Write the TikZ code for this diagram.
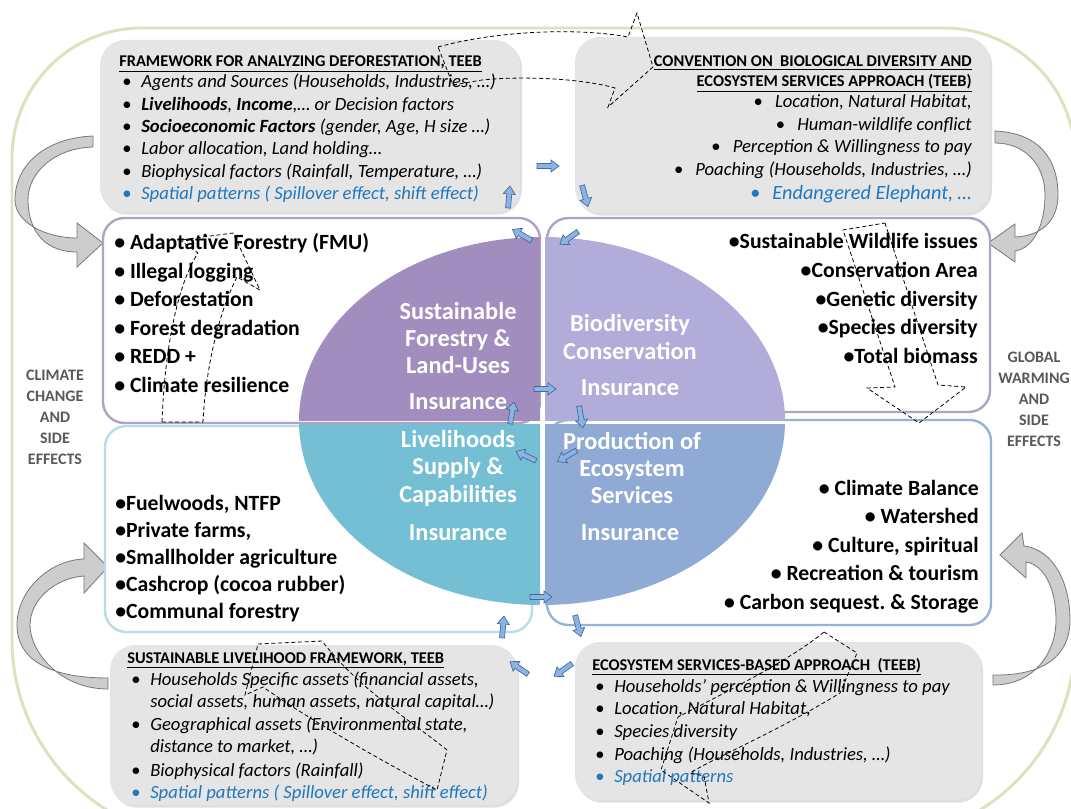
\documentclass[tikz,border=0pt]{standalone}
\usepackage{fontspec}
\setmainfont{Carlito}
\usetikzlibrary{shadows}
\frenchspacing
\definecolor{frameg}{RGB}{215,228,189}
\definecolor{boxg}{RGB}{229,229,229}
\definecolor{purb}{RGB}{178,161,199}
\definecolor{lblb}{RGB}{183,221,232}
\definecolor{blb}{RGB}{149,179,215}
\definecolor{qtl}{RGB}{161,142,190}
\definecolor{qtr}{RGB}{177,172,217}
\definecolor{qbl}{RGB}{116,191,211}
\definecolor{qbr}{RGB}{143,170,213}
\definecolor{txtblue}{RGB}{31,119,190}
\definecolor{sidegray}{RGB}{89,89,89}
\definecolor{arrfill}{RGB}{141,179,226}
\definecolor{arrdraw}{RGB}{65,105,155}
\definecolor{bigfill}{RGB}{205,205,205}
\definecolor{bigdraw}{RGB}{120,120,120}
\newcommand{\bul}{\makebox[14.25pt][l]{\upshape •}}
\begin{document}
\begin{tikzpicture}[x=0.75pt,y=-0.75pt,
 gbox/.style={fill=boxg, rounded corners=19pt, drop shadow={opacity=0.25,shadow xshift=1.5pt,shadow yshift=-2pt}},
 mbox/.style={fill=white, rounded corners=16pt, line width=1.8pt},
 gi/.style={font=\fontsize{14}{16.8}\selectfont\itshape, inner sep=0pt, anchor=base west},
 gir/.style={gi, anchor=base east},
 gh/.style={font=\fontsize{12.3}{14}\selectfont\bfseries, inner sep=0pt, anchor=base west},
 ghr/.style={gh, anchor=base east},
 mi/.style={font=\fontsize{16.3}{19}\selectfont\bfseries, inner sep=0pt, anchor=base west},
 mir/.style={mi, anchor=base east},
 qt/.style={font=\fontsize{18.3}{20.6}\selectfont\bfseries, text=white, align=center, inner sep=0pt},
 side/.style={font=\fontsize{12}{15.75}\selectfont\bfseries, text=sidegray, align=center, inner sep=0pt},
 big/.style={fill=bigfill, draw=bigdraw, line width=0.6pt},
 dsh/.style={draw=black, line width=0.6pt, dash pattern=on 3pt off 2pt},
 barr/.pic={\filldraw[fill=arrfill, draw=arrdraw, line width=0.5pt] (-11,-2.5) -- (3,-2.5) -- (3,-6) -- (11,0) -- (3,6) -- (3,2.5) -- (-11,2.5) -- cycle;}
]
\useasboundingbox (0,0) rectangle (1071,809);
\fill[white] (0,0) rectangle (1071,809);

% outer frame
\draw[frameg, line width=2.2pt] (12,158) .. controls (12,86) and (70,28) .. (142,28)
 -- (944,28) .. controls (1016,28) and (1075,86) .. (1075,158)
 -- (1075,640) .. controls (1075,750) and (985,840) .. (875,840)
 -- (212,840) .. controls (102,840) and (12,750) .. (12,640) -- cycle;

% gray boxes
\path[gbox] (100,40) rectangle (520,212);
\path[gbox] (575,37) rectangle (990,213);
\path[gbox] (110,645) rectangle (517,805);
\path[gbox] (575,642) rectangle (981,800);

% big gray curved arrows
\path[big] (93,136) .. controls (45,138) and (15,165) .. (15,200) .. controls (15,222) and (45,238) .. (77,238)
 -- (77,223) -- (103,243) -- (77,267) -- (77,252) .. controls (40,252) and (28,225) .. (28,200)
 .. controls (28,172) and (55,148) .. (93,147) -- cycle;
\path[big] (995,131) .. controls (1040,133) and (1058,160) .. (1058,195) .. controls (1058,222) and (1040,236) .. (1015,237)
 -- (1015,224) -- (988,243) -- (1015,262) -- (1015,251) .. controls (1035,248) and (1045,222) .. (1045,195)
 .. controls (1045,165) and (1025,143) .. (995,143) -- cycle;
\path[big] (108,678) .. controls (50,678) and (17,660) .. (17,625) .. controls (17,590) and (50,560) .. (84,559)
 -- (84,543) -- (108,567) -- (84,593) -- (84,576) .. controls (55,578) and (30,600) .. (30,625)
 .. controls (30,652) and (60,689) .. (108,689) -- cycle;
\path[big] (993,675) .. controls (1045,676) and (1070,655) .. (1070,620) .. controls (1070,585) and (1055,550) .. (1024,546)
 -- (1022,533) -- (1000,555) -- (1026,578) -- (1026,562) .. controls (1045,565) and (1056,590) .. (1056,620)
 .. controls (1056,652) and (1035,685) .. (993,685) -- cycle;

% middle boxes
\draw[mbox, draw=purb] (103,218) rectangle (540,423);
\draw[mbox, draw=purb] (547,218) rectangle (990,412);
\draw[mbox, draw=lblb] (105,426) rectangle (532,632);
\draw[mbox, draw=blb] (547,420) rectangle (991,625);

% ellipse quadrants
\begin{scope}\clip (280,220) rectangle (540,420);
\fill[qtl] (542,421) ellipse [x radius=243, y radius=184];\end{scope}
\begin{scope}\clip (545,220) rectangle (800,420);
\fill[qtr] (542,421) ellipse [x radius=243, y radius=184];\end{scope}
\begin{scope}\clip (280,424) rectangle (540,620);
\fill[qbl] (542,421) ellipse [x radius=243, y radius=184];\end{scope}
\begin{scope}\clip (545,424) rectangle (800,620);
\fill[qbr] (542,421) ellipse [x radius=243, y radius=184];\end{scope}

% top-left gray box text
\node[gh] (h1) at (119,67) {\underline{FRAMEWORK FOR ANALYZING DEFORESTATION, TEEB}};
\node[gi] (a1) at (122,88) {\bul Agents and Sources (Households, Industries, …)};
\node[gi] (a2) at (122,110.3) {\bul \textbf{Livelihoods}, \textbf{Income},… or Decision factors};
\node[gi] (a3) at (122,132.6) {\bul \textbf{Socioeconomic Factors} (gender, Age, H size …)};
\node[gi] (a4) at (122,154.9) {\bul Labor allocation, Land holding…};
\node[gi] (a5) at (122,177.2) {\bul Biophysical factors (Rainfall, Temperature, …)};
\node[gi, text=txtblue] (a6) at (122,199.5) {\bul Spatial patterns ( Spillover effect, shift effect)};

% top-right gray box text
\node[ghr] (h2a) at (972,67) {\underline{CONVENTION ON\ \ BIOLOGICAL DIVERSITY AND}};
\node[ghr] (h2b) at (972,87) {\underline{ECOSYSTEM SERVICES APPROACH (TEEB)}};
\node[gir] (b1) at (972,108) {\upshape •\hspace{9pt}\itshape Location, Natural Habitat,};
\node[gir] (b2) at (972,130.5) {\upshape •\hspace{9pt}\itshape Human-wildlife conflict};
\node[gir] (b3) at (972,153) {\upshape •\hspace{9pt}\itshape Perception \& Willingness to pay};
\node[gir] (b4) at (972,176) {\upshape •\hspace{9pt}\itshape Poaching (Households, Industries, …)};
\node[gir, text=txtblue, font=\fontsize{15.2}{17}\selectfont\itshape] (b5) at (972,200) {\upshape •\hspace{9pt}\itshape Endangered Elephant, …};

% bottom-left gray box text
\node[gh] (h3) at (127,663) {\underline{SUSTAINABLE LIVELIHOOD FRAMEWORK, TEEB}};
\node[gi] (c1) at (131,685.5) {\bul Households Specific assets (financial assets,};
\node[gi] (c2) at (150,707.5) {social assets, human assets, natural capital…)};
\node[gi] (c3) at (131,730.5) {\bul Geographical assets (Environmental state,};
\node[gi] (c4) at (150,752.5) {distance to market, …)};
\node[gi] (c5) at (131,776) {\bul Biophysical factors (Rainfall)};
\node[gi, text=txtblue] (c6) at (131,798.5) {\bul Spatial patterns ( Spillover effect, shift effect)};

% bottom-right gray box text
\node[gh] (h4) at (592,670) {\underline{ECOSYSTEM SERVICES-BASED APPROACH\ \ (TEEB)}};
\node[gi] (d1) at (595,692.5) {\bul Households’ perception \& Willingness to pay};
\node[gi] (d2) at (595,714) {\bul Location, Natural Habitat,};
\node[gi] (d3) at (595,737.5) {\bul Species diversity};
\node[gi] (d4) at (595,760.5) {\bul Poaching (Households, Industries, …)};
\node[gi, text=txtblue] (d5) at (595,782.5) {\bul Spatial patterns};

% middle boxes text
\node[mi] (e1) at (114,250) {• Adaptative Forestry (FMU)};
\node[mi] (e2) at (114,278.4) {• Illegal logging};
\node[mi] (e3) at (114,306.8) {• Deforestation};
\node[mi] (e4) at (114,335.2) {• Forest degradation};
\node[mi] (e5) at (114,363.6) {• REDD +};
\node[mi] (e6) at (114,392) {• Climate resilience};

\node[mir] (f1) at (978,249) {•Sustainable Wildlife issues};
\node[mir] (f2) at (978,277.6) {•Conservation Area};
\node[mir] (f3) at (978,306.2) {•Genetic diversity};
\node[mir] (f4) at (978,334.8) {•Species diversity};
\node[mir] (f5) at (978,363.4) {•Total biomass};

\node[mi] (g1) at (115,510) {•Fuelwoods, NTFP};
\node[mi] (g2) at (115,537.2) {•Private farms,};
\node[mi] (g3) at (115,564.4) {•Smallholder agriculture};
\node[mi] (g4) at (115,591.6) {•Cashcrop (cocoa rubber)};
\node[mi] (g5) at (115,618.8) {•Communal forestry};

\node[mir] (k1) at (979,495) {• Climate Balance};
\node[mir] (k2) at (979,523.5) {• Watershed};
\node[mir] (k3) at (979,552) {• Culture, spiritual};
\node[mir] (k4) at (979,580.5) {• Recreation \& tourism};
\node[mir] (k5) at (979,609) {• Carbon sequest. \& Storage};

% ellipse texts
\node[qt] (q1) at (458,338) {Sustainable\\Forestry \&\\Land-Uses};
\node[qt] (q1i) at (458,402) {Insurance};
\node[qt] (q2) at (630,337) {Biodiversity\\Conservation};
\node[qt] (q2i) at (630,388) {Insurance};
\node[qt] (q3) at (458,468) {Livelihoods\\Supply \&\\Capabilities};
\node[qt] (q3i) at (458,533) {Insurance};
\node[qt] (q4) at (632,468) {Production of\\Ecosystem\\Services};
\node[qt] (q4i) at (630,533) {Insurance};

% side labels
\node[side] (s1) at (55,417) {CLIMATE\\CHANGE\\AND\\SIDE\\EFFECTS};
\node[side] (s2) at (1034,399) {GLOBAL\\WARMING\\AND\\SIDE\\EFFECTS};

% small blue arrows (rotate = counter-clockwise on the page)
\path (548,166) pic {barr};
\path (585,196) pic[rotate=-75] {barr};
\path (509,197) pic[rotate=85] {barr};
\path (522,235) pic[rotate=150] {barr};
\path (569,238) pic[rotate=-145] {barr};
\path (545,389) pic {barr};
\path (581,417) pic[rotate=-80] {barr};
\path (512,413) pic[rotate=80] {barr};
\path (526,456) pic[rotate=155] {barr};
\path (567,456) pic[rotate=-150] {barr};
\path (541,597) pic {barr};
\path (578,626) pic[rotate=-75] {barr};
\path (503,627) pic[rotate=85] {barr};
\path (519,668) pic[rotate=145] {barr};
\path (563,670) pic[rotate=-145] {barr};

% dashed arrows
\draw[dsh] (438,47) .. controls (500,30) and (580,28) .. (628,37) -- (637,13) -- (653,67) -- (608,107) -- (615,88)
 .. controls (580,78) and (520,76) .. (482,80) -- (453,85) -- cycle;
\draw[dsh] (162,422) .. controls (165,340) and (180,280) .. (198,253) -- (180,240) -- (233,233) -- (260,290) -- (237,277)
 .. controls (215,320) and (205,380) .. (203,422) -- cycle;
\draw[dsh] (885,223) -- (938,385) -- (966,387) -- (919,423) -- (867,388) -- (895,387) -- (843,230) -- cycle;
\draw[dsh] (258,644) -- (322,641) .. controls (360,690) and (410,720) .. (447,750) -- (437,790)
 .. controls (380,760) and (310,720) .. (263,687) -- (245,695) -- cycle;
\draw[dsh] (824,632) -- (857,653) -- (840,693) .. controls (780,730) and (720,755) .. (690,773) -- (704,776) -- (709,803)
 -- (661,770) -- (678,717) .. controls (730,690) and (790,660) .. (824,632);
\end{tikzpicture}
\end{document}
